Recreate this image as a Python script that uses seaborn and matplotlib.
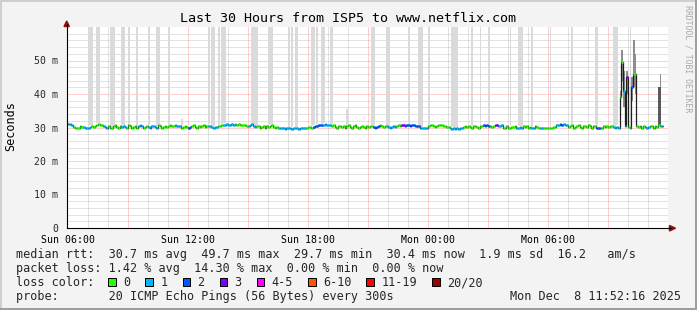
import matplotlib
matplotlib.use("Agg")
import matplotlib.pyplot as plt
import numpy as np
import pandas as pd
import seaborn as sns
from matplotlib.patches import Rectangle, Polygon
from matplotlib.lines import Line2D

# ---------------- data ----------------
title = "Last 30 Hours from ISP5 to www.netflix.com"
x_tick_hours = [0, 6, 12, 18, 24]           # hours after Sun 06:00
x_tick_labels = ["Sun 06:00", "Sun 12:00", "Sun 18:00", "Mon 00:00", "Mon 06:00"]
y_ticks_ms = [0, 10, 20, 30, 40, 50]
y_tick_labels = ["0", "10 m", "20 m", "30 m", "40 m", "50 m"]

loss_labels = ["0", "1", "2", "3", "4-5", "6-10", "11-19", "20/20"]
loss_colors = ["#26ff00", "#00b8ff", "#0059ff", "#7e00ff",
               "#ff00ff", "#ff5500", "#ff0000", "#a10000"]

# median RTT (ms), one value per 5-minute slot from Sun 06:00, one row per hour
median_ms = [
    30.9, 31.0, 30.8, 30.2, 29.9, 29.8, 30.0, 30.3, 30.1, 30.2, 30.0, 29.9,
    30.0, 30.2, 30.4, 30.1, 30.5, 30.8, 30.9, 30.7, 30.6, 30.3, 30.1, 30.0,
    30.4, 30.0, 29.8, 30.3, 30.6, 30.2, 29.9, 30.3, 30.1, 30.4, 30.2, 30.0,
    30.6, 30.3, 29.9, 30.1, 30.4, 30.0, 30.5, 30.6, 30.3, 30.0, 30.2, 30.5,
    30.2, 30.0, 30.3, 30.4, 30.1, 30.0, 30.6, 30.3, 29.9, 30.2, 30.5, 30.1,
    30.3, 30.7, 30.4, 30.5, 30.6, 30.4, 30.3, 30.5, 29.9, 30.1, 30.4, 30.2,
    30.0, 30.1, 30.3, 30.6, 30.2, 29.9, 30.4, 30.1, 30.5, 30.6, 30.2, 30.4,
    30.5, 30.3, 30.1, 30.0, 30.2, 30.1, 30.4, 30.3, 30.6, 30.8, 30.8, 30.9,
    30.8, 30.8, 30.9, 30.8, 30.9, 30.8, 30.9, 30.7, 30.8, 30.6, 30.7, 30.5,
    30.3, 30.6, 30.9, 30.5, 30.1, 30.3, 30.5, 29.9, 30.2, 30.4, 30.0, 30.3,
    30.2, 30.5, 30.6, 30.1, 30.0, 30.2, 29.8, 29.8, 29.8, 29.8, 29.7, 29.8,
    29.8, 29.8, 29.7, 29.8, 29.8, 29.8, 29.7, 29.8, 29.8, 29.8, 29.9, 30.0,
    30.2, 30.1, 29.9, 30.2, 30.4, 30.5, 30.6, 30.6, 30.7, 30.8, 30.9, 30.8,
    30.8, 30.7, 30.3, 30.6, 30.2, 29.9, 30.3, 30.5, 30.1, 30.4, 30.0, 30.3,
    30.6, 30.2, 30.0, 30.5, 30.6, 30.2, 29.9, 30.1, 30.4, 30.2, 29.9, 30.4,
    30.2, 30.5, 30.3, 30.2, 30.0, 30.1, 30.3, 30.6, 30.4, 30.2, 30.5, 30.3,
    30.1, 30.0, 30.2, 30.4, 30.1, 30.3, 30.6, 30.5, 30.7, 30.7, 30.5, 30.6,
    30.6, 30.4, 30.7, 30.8, 30.5, 30.3, 30.4, 29.9, 29.8, 29.8, 29.9, 30.0,
    30.3, 30.6, 30.7, 30.4, 30.2, 30.5, 30.8, 30.6, 30.7, 30.3, 30.5, 30.2,
    30.1, 29.8, 29.7, 29.8, 29.7, 29.8, 29.7, 29.8, 29.9, 30.1, 30.4, 30.2,
    30.4, 30.1, 29.9, 30.3, 30.5, 30.2, 30.0, 30.3, 30.4, 30.6, 30.5, 30.6,
    30.5, 30.3, 30.2, 30.5, 30.8, 30.7, 30.5, 30.4, 30.6, 30.0, 29.9, 30.3,
    29.9, 30.0, 30.2, 30.1, 30.3, 30.0, 29.9, 30.1, 30.0, 30.4, 30.2, 30.3,
    30.0, 30.1, 29.9, 30.0, 30.3, 30.1, 29.9, 30.0, 29.9, 30.0, 29.9, 29.9,
    30.0, 29.8, 29.9, 30.1, 30.2, 30.7, 30.8, 30.9, 30.8, 30.9, 30.8, 30.6,
    30.1, 30.4, 30.6, 30.0, 30.2, 30.5, 30.6, 30.1, 29.9, 30.3, 30.5, 30.2,
    30.6, 30.3, 30.0, 30.4, 30.5, 30.0, 29.8, 29.9, 30.0, 30.4, 30.2, 30.5,
    30.2, 30.5, 30.3, 30.1, 30.0, 30.2, 30.0, 39.0, 49.7, 41.0, 30.3, 45.0,
    30.2, 30.0, 42.0, 46.0, 46.0, 30.5, 30.1, 30.3, 29.9, 30.4, 30.2, 30.0,
    30.1, 30.3, 30.5, 30.0, 30.4, 30.2, 30.6, 30.3, 30.4,
]

# packets lost (of 20) per slot -> index into loss_colors
loss_level = [
    1, 1, 1, 0, 0, 0, 0, 0, 0, 1, 1, 1,
    1, 1, 0, 0, 0, 0, 0, 0, 0, 1, 1, 1,
    0, 0, 0, 0, 0, 0, 0, 0, 1, 1, 1, 0,
    0, 0, 0, 0, 0, 0, 1, 1, 1, 0, 0, 0,
    1, 1, 1, 1, 1, 1, 0, 0, 0, 0, 0, 0,
    0, 0, 0, 0, 1, 1, 1, 1, 0, 0, 0, 0,
    2, 2, 0, 0, 0, 0, 0, 0, 0, 0, 0, 0,
    1, 1, 1, 1, 1, 1, 0, 0, 0, 1, 1, 1,
    1, 1, 1, 1, 0, 0, 0, 0, 0, 0, 0, 0,
    1, 1, 1, 1, 1, 0, 0, 0, 0, 0, 0, 0,
    0, 0, 0, 0, 0, 0, 1, 1, 1, 1, 1, 1,
    1, 1, 1, 1, 1, 1, 1, 1, 1, 1, 1, 0,
    0, 0, 0, 2, 2, 2, 2, 2, 2, 1, 1, 1,
    1, 1, 0, 0, 0, 0, 0, 0, 0, 0, 0, 0,
    0, 0, 0, 0, 0, 0, 0, 0, 0, 0, 0, 0,
    0, 0, 0, 2, 2, 2, 2, 0, 0, 0, 0, 1,
    1, 1, 1, 1, 1, 0, 0, 0, 3, 3, 2, 2,
    2, 2, 2, 2, 2, 2, 2, 1, 1, 1, 1, 1,
    0, 0, 0, 0, 0, 0, 0, 0, 0, 0, 0, 0,
    0, 1, 1, 1, 1, 1, 1, 1, 1, 0, 0, 0,
    0, 0, 0, 0, 0, 0, 0, 0, 0, 2, 2, 2,
    2, 0, 0, 0, 3, 3, 1, 1, 1, 0, 0, 0,
    0, 0, 0, 0, 0, 1, 1, 1, 1, 0, 0, 0,
    0, 0, 1, 1, 0, 0, 0, 1, 1, 0, 0, 0,
    0, 0, 0, 0, 0, 1, 1, 2, 2, 1, 1, 1,
    0, 0, 0, 0, 0, 0, 0, 0, 0, 0, 0, 0,
    0, 0, 0, 0, 0, 2, 2, 2, 0, 0, 0, 0,
    0, 0, 0, 1, 1, 1, 1, 0, 0, 1, 1, 3,
    0, 1, 2, 0, 0, 0, 0, 0, 0, 0, 1, 1,
    1, 0, 0, 0, 0, 0, 0, 1, 1,
]

# slots whose highest pings go off the top of the chart (light smoke)
smoke_slots = [12, 13, 14, 17, 18, 25, 26, 27, 32, 33, 36, 41, 48, 53, 54, 60,
               84, 86, 87, 90, 92, 93, 94, 110, 111, 112, 113, 120, 121, 122,
               132, 134, 136, 137, 146, 147, 149, 152, 153, 157, 158, 182, 183,
               191, 192, 204, 210, 211, 212, 216, 230, 231, 232, 233, 242, 247,
               252, 265, 270, 271, 272, 278, 289, 302, 316, 317, 327, 328, 329,
               337]
# light smoke that stays inside the chart
partial_smoke_slots = [68, 167]
partial_smoke_top_ms = [32.5, 35.5]
# mid-grey smoke (ping spread) around the late spikes
mid_slots = [331, 332, 333, 335, 338, 339, 340, 354, 355]
mid_low_ms = [33.0, 44.0, 36.0, 40.0, 38.0, 42.0, 40.0, 30.6, 30.6]
mid_high_ms = [41.0, 53.0, 47.0, 47.0, 45.0, 56.0, 52.0, 42.0, 46.0]
# dense (dark) smoke
dark_slots = [354, 355]
dark_low_ms = [30.6, 30.6]
dark_high_ms = [42.0, 42.0]

legend_rtt = "median rtt:  30.7 ms avg  49.7 ms max  29.7 ms min  30.4 ms now  1.9 ms sd  16.2   am/s"
legend_loss = "packet loss: 1.42 % avg  14.30 % max  0.00 % min  0.00 % now"
legend_color_head = "loss color:"
probe_text = "probe:       20 ICMP Echo Pings (56 Bytes) every 300s"
stamp_text = "Mon Dec  8 11:52:16 2025"
watermark = "RRDTOOL / TOBI OETIKER"
y_label = "Seconds"

# ---------------- drawing ----------------
SLOT_H = 5.0 / 60.0
W, H = 697, 310
sns.set_theme(style="white")
plt.rcParams["font.family"] = ["DejaVu Sans Mono", "DejaVu Sans"]

BACK = "#F3F3F3"
fig = plt.figure(figsize=(W / 100, H / 100), dpi=100, facecolor=BACK)


def fx(px):
    return px / W


def fy(py):
    return 1 - py / H


ax = fig.add_axes([fx(67), fy(228), fx(668) - fx(67), fy(27) - fy(228)])
ax.set_facecolor("white")
ax.set_xlim(-0.05, 30.0)
ax.set_ylim(0, 60)

med = np.asarray(median_ms, dtype=float)
loss = np.asarray(loss_level, dtype=int)
t = np.arange(len(med)) * SLOT_H

# grid (dotted, 1px on / 1px off)
grey = (0.56, 0.56, 0.56, 0.5)
red = (1.0, 0.0, 0.0, 0.38)
for h in range(1, 30):
    ax.axvline(h, color=red if h % 3 == 0 else grey, lw=0.72,
               ls=(0, (1, 1)), zorder=0.5)
for v in range(2, 60, 2):
    ax.axhline(v, color=red if v % 10 == 0 else grey, lw=0.72,
               ls=(0, (1, 1)), zorder=0.5)

# light smoke
top = ax.get_ylim()[1] + 5
ss = np.asarray(smoke_slots)
bot = med[ss] + 0.4
ax.bar(ss * SLOT_H, top - bot, bottom=bot, width=SLOT_H, align="edge",
       color="#DADADA", linewidth=0, zorder=1)
ps = np.asarray(partial_smoke_slots)
pb = med[ps] + 0.4
ax.bar(ps * SLOT_H, np.asarray(partial_smoke_top_ms) - pb, bottom=pb,
       width=SLOT_H, align="edge", color="#DADADA", linewidth=0, zorder=1)
# mid smoke
ms_ = np.asarray(mid_slots)
ax.bar(ms_ * SLOT_H, np.asarray(mid_high_ms) - np.asarray(mid_low_ms),
       bottom=mid_low_ms, width=SLOT_H, align="edge",
       color="#8E8E8E", linewidth=0, zorder=1.5)
# dark smoke
ds = np.asarray(dark_slots)
ax.bar(ds * SLOT_H, np.asarray(dark_high_ms) - np.asarray(dark_low_ms),
       bottom=dark_low_ms, width=SLOT_H, align="edge",
       color="#5A5A5A", linewidth=0, zorder=1.6)

# median line (dark) with loss-coloured band
df = pd.DataFrame({"t": np.append(t, t[-1] + SLOT_H),
                   "ms": np.append(med, med[-1])})
sns.lineplot(data=df, x="t", y="ms", ax=ax, color="#202020", lw=0.9,
             drawstyle="steps-post", estimator=None, sort=False, zorder=3)
ax.hlines(med, t, t + SLOT_H, colors=[loss_colors[l] for l in loss],
          lw=1.9, zorder=4)

# axes / ticks
for s in ["top", "right"]:
    ax.spines[s].set_visible(False)
for s in ["left", "bottom"]:
    ax.spines[s].set_color("black")
    ax.spines[s].set_linewidth(0.8)
    ax.spines[s].set_zorder(5)

major_x = list(range(0, 30, 3))
lab_map = dict(zip(x_tick_hours, x_tick_labels))
ax.set_xticks(major_x, [lab_map.get(h, "") for h in major_x])
ax.set_xticks(list(range(0, 30)), minor=True)
ax.tick_params(axis="x", which="major", length=2.5, width=0.72,
               color=(1, 0, 0, 0.6), labelcolor="black", labelsize=7.1,
               pad=2.5, direction="out")
ax.tick_params(axis="x", which="minor", length=1.5, width=0.72,
               color=(0.5, 0.5, 0.5, 0.6), direction="out")
ax.set_yticks(y_ticks_ms, y_tick_labels)
ax.tick_params(axis="y", which="major", length=4, width=0.72, color="black",
               labelsize=7.1, pad=2.2, direction="out")
ax.set_xlabel("")
ax.set_ylabel("")
ax.grid(False)

# arrows
arrow_c = "#8B1010"
fig.add_artist(Line2D([fx(66.7), fx(66.7)], [fy(27), fy(24)], color="black",
                      lw=0.8))
fig.add_artist(Polygon([(fx(66.7), fy(21)), (fx(64), fy(26.5)),
                        (fx(69.4), fy(26.5))], closed=True, color=arrow_c))
fig.add_artist(Line2D([fx(668), fx(671)], [fy(228.2), fy(228.2)],
                      color="black", lw=0.8))
fig.add_artist(Polygon([(fx(675.5), fy(228.2)), (fx(669.5), fy(225.5)),
                        (fx(669.5), fy(231))], closed=True, color=arrow_c))

# titles
fig.text(fx(348), fy(19), title, ha="center", va="center", fontsize=9.6,
         color="black")
fig.text(fx(11), fy(126), y_label, rotation=90, ha="center", va="center",
         fontsize=8.5, color="black")
fig.text(fx(688), fy(58.5), watermark, rotation=270, ha="center",
         va="center", fontsize=5.9, color="#A8A8A8")

# legend block
LG = 8.5
fig.text(fx(16), fy(258), legend_rtt, fontsize=LG, va="baseline", ha="left")
fig.text(fx(16), fy(272), legend_loss, fontsize=LG, va="baseline", ha="left")
fig.text(fx(16), fy(286), legend_color_head, fontsize=LG, va="baseline",
         ha="left")
char_w = LG / 72 * 100 * 0.602
bx = 108.3
for lab, col in zip(loss_labels, loss_colors):
    fig.add_artist(Rectangle((fx(bx), fy(286)), 7.7 / W, 7.7 / H,
                             facecolor=col, edgecolor="black", lw=0.72))
    fig.text(fx(bx + 15), fy(286), lab, fontsize=LG, va="baseline",
             ha="left")
    bx = bx + 15 + len(lab) * char_w + 15
fig.text(fx(16), fy(300), probe_text, fontsize=LG, va="baseline", ha="left")
fig.text(fx(681), fy(300), stamp_text, fontsize=LG, va="baseline",
         ha="right")

# 3-D frame
fig.add_artist(Rectangle((0, 1 - 2 / H), 1, 2 / H, color="#CFCFCF", lw=0))
fig.add_artist(Rectangle((0, 0), 2 / W, 1, color="#CFCFCF", lw=0))
fig.add_artist(Rectangle((0, 0), 1, 2 / H, color="#9E9E9E", lw=0))
fig.add_artist(Rectangle((1 - 2 / W, 0), 2 / W, 1, color="#9E9E9E", lw=0))

fig.savefig("out.png", dpi=100, facecolor=BACK)
